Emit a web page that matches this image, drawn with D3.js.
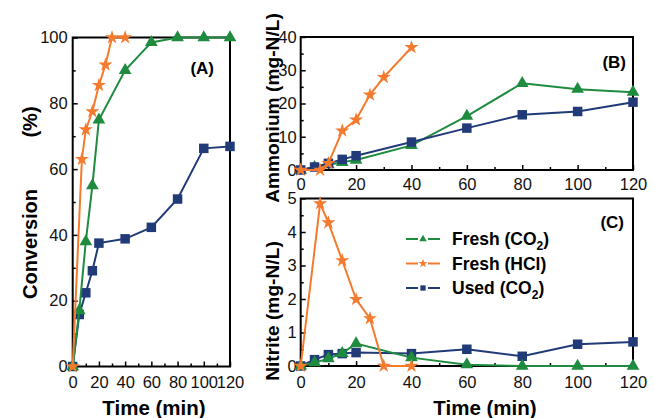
<!DOCTYPE html>
<html><head><meta charset="utf-8">
<script src="https://cdn.jsdelivr.net/npm/d3@7"></script>
<style>
body{margin:0;background:#fff}
svg{display:block}
text{font-family:"Liberation Sans",Arial,Helvetica,sans-serif}
</style></head>
<body><svg id="c" width="654" height="418"></svg>
<script>
// ---- data ----
const seriesNames = ["Fresh (CO2)", "Fresh (HCl)", "Used (CO2)"];
const timeCO2 = [0, 5, 10, 15, 20, 40, 60, 80, 100, 120];
const timeHCl = [0, 7, 10, 15, 20, 25, 30, 40];
// (A) Conversion (%)
const convFreshCO2 = [0, 17, 38, 55, 75, 90, 98.5, 100, 100, 100];
const convFreshHCl = [0, 63, 72, 77.5, 85.5, 91.7, 100, 100];
const convUsedCO2  = [0, 15.8, 22.4, 29.1, 37.5, 38.8, 42.3, 50.9, 66.3, 66.9];
// (B) Ammonium (mg-N/L)
const ammFreshCO2 = [0, 0.8, 1.6, 2.3, 3.0, 7.4, 16.2, 26.1, 24.3, 23.4];
const ammFreshHCl = [0, 0, 2.0, 11.8, 15.1, 22.6, 27.9, 36.9];
const ammUsedCO2  = [0, 0.9, 2.0, 3.2, 4.3, 8.4, 12.6, 16.6, 17.6, 20.4];
// (C) Nitrite (mg-N/L)
const nitFreshCO2 = [0, 0.1, 0.22, 0.38, 0.67, 0.25, 0.04, 0, 0, 0];
const nitFreshHCl = [0, 4.85, 4.28, 3.15, 1.99, 1.42, 0, 0];
const nitUsedCO2  = [0, 0.19, 0.34, 0.37, 0.4, 0.37, 0.5, 0.29, 0.65, 0.72];
// ticks
const xTicks = [0, 20, 40, 60, 80, 100, 120];
const yTicksA = [0, 20, 40, 60, 80, 100];
const yTicksB = [0, 10, 20, 30, 40];
const yTicksC = [0, 1, 2, 3, 4, 5];

// ---- style ----
const GREEN = "#1f8b3f", ORANGE = "#f47a2e", NAVY = "#213a78";
const svg = d3.select("#c");

const styles = {
  green: {color: GREEN, sym: d3.symbolTriangle, size: 70},
  orange: {color: ORANGE, sym: d3.symbolStar, size: 62},
  navy: {color: NAVY, sym: d3.symbolSquare, size: 90}
};

function panel(cfg) {
  const x = d3.scaleLinear().domain([0, 120]).range([cfg.x0, cfg.x1]);
  const y = d3.scaleLinear().domain([0, cfg.ymax]).range([cfg.yb, cfg.yt]);
  const g = svg.append("g");

  // minor ticks
  const minorX = d3.range(0, 121, 10).filter(v => v % 20 !== 0);
  g.append("g").attr("transform", `translate(0,${cfg.yb})`)
    .call(d3.axisBottom(x).tickValues(minorX).tickSize(-3).tickFormat(""))
    .call(a => a.select(".domain").remove())
    .selectAll("line").attr("stroke-width", 1.5);
  g.append("g").attr("transform", `translate(${cfg.x0},0)`)
    .call(d3.axisLeft(y).tickValues(cfg.minorY).tickSize(-3).tickFormat(""))
    .call(a => a.select(".domain").remove())
    .selectAll("line").attr("stroke-width", 1.5);

  // major ticks with labels
  const xa = g.append("g").attr("transform", `translate(0,${cfg.yb})`)
    .call(d3.axisBottom(x).tickValues(xTicks).tickSize(-5).tickPadding(cfg.xpad).tickFormat(d3.format("d")));
  xa.select(".domain").remove();
  xa.selectAll("line").attr("stroke-width", 1.5);
  xa.selectAll("text").attr("font-size", 16.5).attr("fill", "#111");
  const ya = g.append("g").attr("transform", `translate(${cfg.x0},0)`)
    .call(d3.axisLeft(y).tickValues(cfg.yTicks).tickSize(-5).tickPadding(cfg.ypad).tickFormat(d3.format("d")));
  ya.select(".domain").remove();
  ya.selectAll("line").attr("stroke-width", 1.5);
  ya.selectAll("text").attr("font-size", 16.5).attr("fill", "#111");

  // frame
  g.append("rect").attr("x", cfg.x0).attr("y", cfg.yt)
    .attr("width", cfg.x1 - cfg.x0).attr("height", cfg.yb - cfg.yt)
    .attr("fill", "none").attr("stroke", "#000").attr("stroke-width", 2);

  // series
  cfg.series.forEach(s => {
    const st = styles[s.style];
    const pts = s.t.map((t, i) => [t, s.v[i]]);
    g.append("path").datum(pts)
      .attr("d", d3.line().x(d => x(d[0])).y(d => y(d[1])))
      .attr("fill", "none").attr("stroke", st.color).attr("stroke-width", 2);
    g.selectAll(null).data(pts).enter().append("path")
      .attr("transform", d => `translate(${x(d[0])},${y(d[1])})`)
      .attr("d", d3.symbol().type(st.sym).size(st.size))
      .attr("fill", st.color);
  });

  // panel label
  g.append("text").attr("x", cfg.lx).attr("y", cfg.ly).attr("text-anchor", "end")
    .attr("font-size", 17).attr("font-weight", "bold").text(cfg.label);
  return {x, y, g};
}

panel({x0: 72.7, x1: 230, yt: 37.5, yb: 366.5, ymax: 100, yTicks: yTicksA,
  minorY: d3.range(10, 100, 20), xpad: 10, ypad: 5, label: "(A)", lx: 214, ly: 74,
  series: [
    {style: "navy", t: timeCO2, v: convUsedCO2},
    {style: "green", t: timeCO2, v: convFreshCO2},
    {style: "orange", t: timeHCl, v: convFreshHCl}
  ]});

panel({x0: 300.7, x1: 633, yt: 37, yb: 170, ymax: 40, yTicks: yTicksB,
  minorY: d3.range(5, 40, 10), xpad: 8, ypad: 4, label: "(B)", lx: 626, ly: 68,
  series: [
    {style: "green", t: timeCO2, v: ammFreshCO2},
    {style: "navy", t: timeCO2, v: ammUsedCO2},
    {style: "orange", t: timeHCl, v: ammFreshHCl}
  ]});

panel({x0: 300.7, x1: 633, yt: 198.5, yb: 366, ymax: 5, yTicks: yTicksC,
  minorY: d3.range(0.5, 5, 1), xpad: 10, ypad: 4, label: "(C)", lx: 624, ly: 228,
  series: [
    {style: "navy", t: timeCO2, v: nitUsedCO2},
    {style: "green", t: timeCO2, v: nitFreshCO2},
    {style: "orange", t: timeHCl, v: nitFreshHCl}
  ]});

// axis titles
function vtitle(x, y, txt, size) {
  svg.append("text").attr("transform", `translate(${x},${y}) rotate(-90)`)
    .attr("text-anchor", "middle").attr("font-size", size).attr("font-weight", "bold").text(txt);
}
vtitle(37, 244, "Conversion", 20);
vtitle(37, 122, "(%)", 20);
vtitle(279, 108, "Ammonium (mg-N/L)", 19.2);
vtitle(279, 311, "Nitrite (mg-N/L)", 19.2);
[[154, "Time (min)"], [485, "Time (min)"]].forEach(([cx, t]) => {
  svg.append("text").attr("x", cx).attr("y", 415).attr("text-anchor", "middle")
    .attr("font-size", 20.5).attr("font-weight", "bold").text(t);
});

// legend
const legendItems = [
  {style: "green", name: "Fresh (CO", sub: "2", tail: ")", lsize: 24},
  {style: "orange", name: "Fresh (HCl)", sub: null, tail: "", lsize: 26},
  {style: "navy", name: "Used (CO", sub: "2", tail: ")", lsize: 28}
];
legendItems.forEach((it, i) => {
  const st = styles[it.style];
  const cy = 239 + i * 24.5;
  const lg = svg.append("g");
  lg.append("line").attr("x1", 406).attr("x2", 418).attr("y1", cy).attr("y2", cy)
    .attr("stroke", st.color).attr("stroke-width", 2);
  lg.append("line").attr("x1", 428).attr("x2", 440).attr("y1", cy).attr("y2", cy)
    .attr("stroke", st.color).attr("stroke-width", 2);
  lg.append("path").attr("transform", `translate(423,${cy})`)
    .attr("d", d3.symbol().type(st.sym).size(it.lsize)).attr("fill", st.color);
  const t = lg.append("text").attr("x", 452).attr("y", cy + 6)
    .attr("font-size", 17.5).attr("font-weight", "bold");
  t.append("tspan").text(it.name);
  if (it.sub) {
    t.append("tspan").attr("font-size", 12).attr("dy", 5).text(it.sub);
    t.append("tspan").attr("dy", -5).text(it.tail);
  }
});
</script>
</body></html>
